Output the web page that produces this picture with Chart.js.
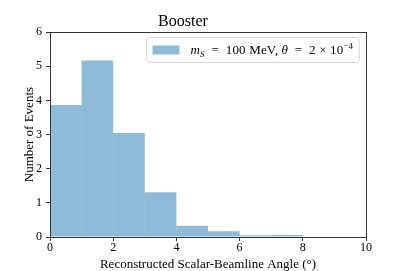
<!DOCTYPE html>
<html>
<head>
<meta charset="utf-8">
<script src="https://cdn.jsdelivr.net/npm/chart.js@4"></script>
<style>
  html, body { margin: 0; padding: 0; background: #fff; }
</style>
</head>
<body>
<canvas id="myChart" width="407" height="271"></canvas>
<script>
// histogram bins (degrees) and event counts per bin
const binEdges = [0, 1, 2, 3, 4, 5, 6, 7, 8, 9, 10];
const counts = [3.87, 5.17, 3.05, 1.31, 0.33, 0.17, 0.05, 0.06, 0, 0];
const xTicks = [0, 2, 4, 6, 8, 10];
const yTicks = [0, 1, 2, 3, 4, 5, 6];
const seriesLabel = 'm_S = 100 MeV, θ = 2 × 10^-4';

const serif = "'Liberation Serif', 'DejaVu Serif', serif";
const barColor = 'rgba(31, 119, 180, 0.5)';

const points = counts.map((c, i) => ({ x: (binEdges[i] + binEdges[i + 1]) / 2, y: c }));

// box around the plot and a matplotlib-like legend with sub/superscripts
const framePlugin = {
    id: 'frame',
    afterDraw(chart) {
        const ctx = chart.ctx;
        const a = chart.chartArea;
        ctx.save();
        ctx.strokeStyle = '#333';
        ctx.lineWidth = 1;
        ctx.strokeRect(Math.round(a.left) + 0.5, Math.round(a.top) + 0.5,
            Math.round(a.right - a.left), Math.round(a.bottom - a.top));

        // legend text pieces: [text, italic, shift]
        const parts = [
            ['m', true, 0], ['S', true, 1], ['  =  100 MeV, ', false, 0],
            ['θ', true, 0], ['  =  2 × 10', false, 0], ['−4', false, -1]
        ];
        const size = 13;
        const fontFor = (p) => (p[1] ? 'italic ' : '') + (p[2] ? size * 0.7 : size) + 'px ' + serif;
        ctx.letterSpacing = '0.15px';
        let textW = 0;
        parts.forEach(p => { ctx.font = fontFor(p); textW += ctx.measureText(p[0]).width; });
        const swW = 27, swH = 9, pad = 6, gap = 11;
        const boxW = pad + swW + gap + textW + pad;
        const boxH = 25;
        const bx = Math.round(a.right - 7 - boxW) + 0.5;
        const by = Math.round(a.top + 5) + 0.5;
        ctx.beginPath();
        ctx.roundRect(bx, by, boxW, boxH, 3);
        ctx.fillStyle = 'rgba(255,255,255,0.8)';
        ctx.fill();
        ctx.strokeStyle = '#d6d6d6';
        ctx.stroke();
        ctx.fillStyle = barColor;
        ctx.fillRect(bx + pad, by + 8, swW, swH);
        const base = by + 16.5;
        let tx = bx + pad + swW + gap;
        ctx.fillStyle = '#000';
        ctx.textBaseline = 'alphabetic';
        ctx.textAlign = 'left';
        parts.forEach(p => {
            ctx.font = fontFor(p);
            ctx.fillText(p[0], tx, base + p[2] * 3 - (p[2] < 0 ? 2 : 0));
            tx += ctx.measureText(p[0]).width;
        });
        ctx.restore();
    }
};

const ctx = document.getElementById('myChart');

new Chart(ctx, {
    type: 'bar',
    data: {
        datasets: [{
            label: seriesLabel,
            data: points,
            backgroundColor: barColor,
            borderWidth: 0,
            inflateAmount: 0,
            barPercentage: 1,
            categoryPercentage: 1
        }]
    },
    options: {
        responsive: false,
        animation: false,
        devicePixelRatio: 1,
        layout: { padding: { left: 0, right: 41, top: 0, bottom: 0 } },
        plugins: {
            legend: { display: false },
            tooltip: { enabled: false },
            title: {
                display: true,
                text: 'Booster',
                color: '#000',
                font: { family: serif, size: 16, weight: 'normal' },
                padding: { top: 12, bottom: 1 }
            }
        },
        scales: {
            x: {
                type: 'linear',
                min: 0,
                max: 10,
                offset: false,
                afterBuildTicks: s => { s.ticks = xTicks.map(v => ({ value: v })); },
                afterFit: s => { s.height = 34; },
                grid: { display: true, drawOnChartArea: false, drawTicks: true, tickLength: 4, color: '#333', offset: false },
                border: { display: true, color: '#333' },
                ticks: { color: '#000', padding: 0, maxRotation: 0, font: { family: serif, size: 12 } },
                title: {
                    display: true,
                    text: 'Reconstructed Scalar-Beamline Angle (°)',
                    color: '#000',
                    font: { family: serif, size: 13, lineHeight: 1 },
                    padding: { top: 0, bottom: 0 }
                }
            },
            y: {
                min: 0,
                max: 6,
                afterBuildTicks: s => { s.ticks = yTicks.map(v => ({ value: v })); },
                afterFit: s => { s.width = 50; },
                grid: { display: true, drawOnChartArea: false, drawTicks: true, tickLength: 4, color: '#333' },
                border: { display: true, color: '#333' },
                ticks: { color: '#000', padding: 4, font: { family: serif, size: 12 } },
                title: {
                    display: true,
                    text: 'Number of Events',
                    color: '#000',
                    font: { family: serif, size: 13, lineHeight: 1 },
                    padding: { top: 23, bottom: 0 }
                }
            }
        }
    },
    plugins: [framePlugin]
});
</script>
</body>
</html>
